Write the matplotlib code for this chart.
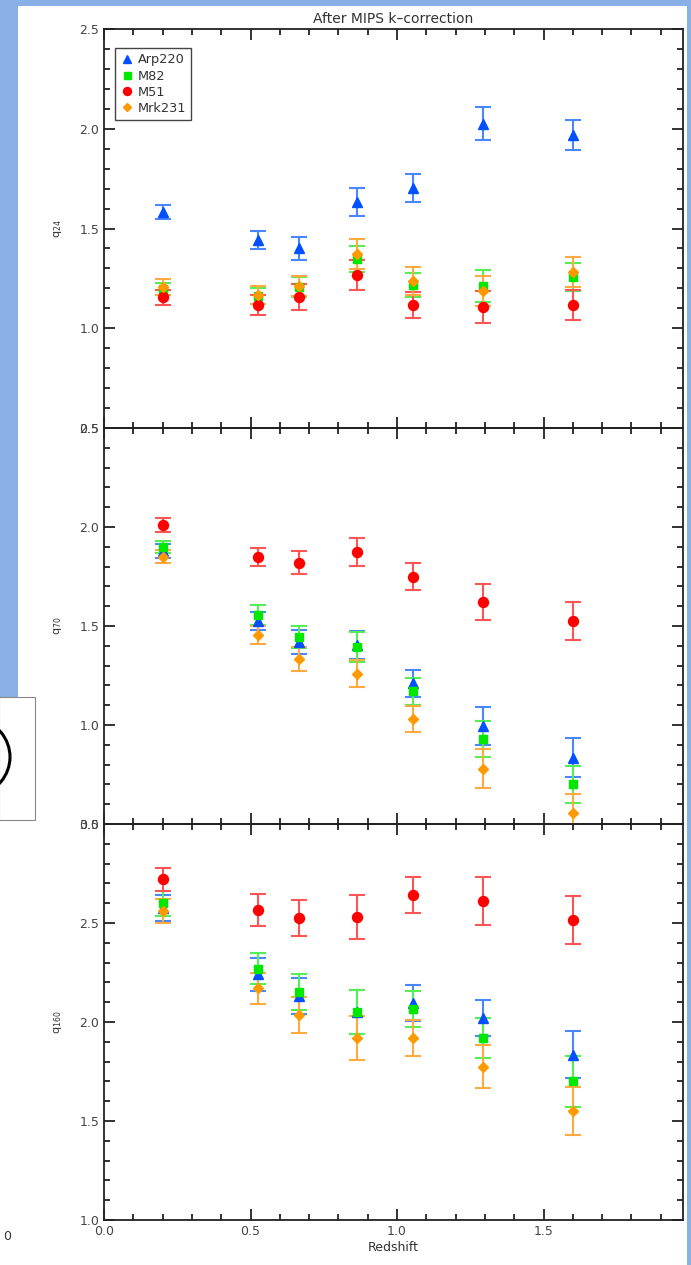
import matplotlib
matplotlib.use("Agg")
import matplotlib.pyplot as plt
from matplotlib.patches import Rectangle, Arc
from matplotlib.lines import Line2D
from matplotlib.ticker import MultipleLocator, FormatStrFormatter

# Redshift bins
redshift = [0.20, 0.525, 0.665, 0.865, 1.055, 1.295, 1.60]

# q24
q24_arp220 = [1.585, 1.44, 1.40, 1.635, 1.705, 2.025, 1.97]
q24_arp220_err = [0.035, 0.045, 0.058, 0.07, 0.07, 0.083, 0.075]
q24_m82 = [1.195, 1.16, 1.205, 1.345, 1.215, 1.21, 1.255]
q24_m82_err = [0.03, 0.04, 0.05, 0.065, 0.06, 0.08, 0.07]
q24_m51 = [1.155, 1.115, 1.155, 1.265, 1.115, 1.105, 1.115]
q24_m51_err = [0.037, 0.05, 0.065, 0.075, 0.065, 0.08, 0.075]
q24_mrk231 = [1.205, 1.165, 1.21, 1.37, 1.235, 1.185, 1.28]
q24_mrk231_err = [0.04, 0.045, 0.05, 0.075, 0.07, 0.075, 0.075]

# q70
q70_arp220 = [1.88, 1.525, 1.42, 1.405, 1.21, 0.995, 0.835]
q70_arp220_err = [0.035, 0.045, 0.06, 0.072, 0.07, 0.095, 0.097]
q70_m82 = [1.90, 1.555, 1.445, 1.395, 1.17, 0.93, 0.70]
q70_m82_err = [0.03, 0.05, 0.057, 0.075, 0.067, 0.09, 0.095]
q70_m51 = [2.01, 1.85, 1.82, 1.875, 1.75, 1.62, 1.525]
q70_m51_err = [0.037, 0.045, 0.058, 0.07, 0.067, 0.09, 0.095]
q70_mrk231 = [1.85, 1.455, 1.333, 1.26, 1.03, 0.78, 0.555]
q70_mrk231_err = [0.033, 0.045, 0.06, 0.07, 0.065, 0.098, 0.095]

# q160
q160_arp220 = [2.575, 2.24, 2.13, 2.05, 2.095, 2.02, 1.835]
q160_arp220_err = [0.065, 0.082, 0.09, 0.11, 0.09, 0.09, 0.12]
q160_m82 = [2.60, 2.27, 2.15, 2.05, 2.065, 1.92, 1.70]
q160_m82_err = [0.063, 0.078, 0.09, 0.11, 0.09, 0.10, 0.13]
q160_m51 = [2.72, 2.565, 2.525, 2.53, 2.64, 2.61, 2.515]
q160_m51_err = [0.06, 0.08, 0.09, 0.11, 0.09, 0.12, 0.12]
q160_mrk231 = [2.56, 2.17, 2.035, 1.92, 1.92, 1.775, 1.55]
q160_mrk231_err = [0.06, 0.078, 0.09, 0.11, 0.09, 0.11, 0.12]

templates = ["Arp220", "M82", "M51", "Mrk231"]
panel_labels = ["q$_{24}$", "q$_{70}$", "q$_{160}$"]

styles = {
    "Arp220": dict(marker="^", color="#0050ff", ecolor="#4a86ff", ms=7.0),
    "M82": dict(marker="s", color="#00e800", ecolor="#55ee55", ms=6.3),
    "M51": dict(marker="o", color="#ff0000", ecolor="#ff5555", ms=7.2),
    "Mrk231": dict(marker="D", color="#ff9900", ecolor="#ffaa40", ms=4.6),
}

panels = [
    ([q24_arp220, q24_m82, q24_m51, q24_mrk231],
     [q24_arp220_err, q24_m82_err, q24_m51_err, q24_mrk231_err], (0.5, 2.5)),
    ([q70_arp220, q70_m82, q70_m51, q70_mrk231],
     [q70_arp220_err, q70_m82_err, q70_m51_err, q70_mrk231_err], (0.5, 2.5)),
    ([q160_arp220, q160_m82, q160_m51, q160_mrk231],
     [q160_arp220_err, q160_m82_err, q160_m51_err, q160_mrk231_err], (1.0, 3.0)),
]

plt.rcParams["font.family"] = ["DejaVu Sans"]
W, H = 691, 1265
fig = plt.figure(figsize=(W / 100, H / 100), dpi=100)
fig.patch.set_facecolor("white")

# page background around the plot
blue = "#89b0e6"
fig.patches.append(Rectangle((0, 1 - 6 / H), 1, 6 / H, transform=fig.transFigure,
                             facecolor=blue, edgecolor="none", zorder=0))
fig.patches.append(Rectangle((0, 1 - 697 / H), 18 / W, 697 / H, transform=fig.transFigure,
                             facecolor=blue, edgecolor="none", zorder=0))
fig.patches.append(Rectangle((687 / W, 0), 4 / W, 1, transform=fig.transFigure,
                             facecolor=blue, edgecolor="none", zorder=0))
fig.patches.append(Rectangle((-1 / W, 1 - 820 / H), 36 / W, 123 / H, transform=fig.transFigure,
                             facecolor="none", edgecolor="#888888", lw=0.8, zorder=0))
fig.patches.append(Arc((-30 / W, 1 - 757 / H), 80 / W, 78 / H, theta1=-70, theta2=70,
                       transform=fig.transFigure, color="black", lw=2.2, zorder=1))
fig.text(3 / W, 1 - 1237 / H, "0", fontsize=9, color="#333333", va="center", ha="left")

left, right = 104 / W, 683 / W
bounds = [(29, 428), (428, 824), (824, 1220)]

axes = []
for i, ((vals, errs, ylim), (ytop, ybot)) in enumerate(zip(panels, bounds)):
    ax = fig.add_axes([left, 1 - ybot / H, right - left, (ybot - ytop) / H])
    axes.append(ax)
    for name, v, e in zip(templates, vals, errs):
        st = styles[name]
        ax.errorbar(redshift, v, yerr=e, fmt=st["marker"], color=st["color"],
                    ecolor=st["ecolor"], ms=st["ms"], mec=st["color"], elinewidth=1.5,
                    capsize=5.5, capthick=1.5, zorder=3)
    ax.set_xlim(0.0, 1.976)
    ax.set_ylim(*ylim)
    ax.xaxis.set_major_locator(MultipleLocator(0.5))
    ax.xaxis.set_minor_locator(MultipleLocator(0.1))
    ax.yaxis.set_major_locator(MultipleLocator(0.5))
    ax.yaxis.set_minor_locator(MultipleLocator(0.1))
    ax.tick_params(which="both", direction="in", top=True, right=True, color="#222222",
                   width=1.3, labelsize=9, labelcolor="#444444")
    ax.tick_params(which="major", length=8)
    ax.tick_params(which="minor", length=4.5)
    ax.yaxis.set_major_formatter(FormatStrFormatter("%.1f"))
    ax.xaxis.set_major_formatter(FormatStrFormatter("%.1f"))
    for sp in ax.spines.values():
        sp.set_color("#222222")
        sp.set_linewidth(1.3)
    ax.set_ylabel(panel_labels[i], fontsize=8, color="#333333", labelpad=11)
    if i < 2:
        ax.tick_params(labelbottom=False)
    ax.set_facecolor("none")

axes[0].set_title("After MIPS k\u2013correction", fontsize=10, color="#333333", pad=4)
axes[2].set_xlabel("Redshift", fontsize=9, color="#333333", labelpad=2)

handles = [Line2D([], [], linestyle="none", marker=styles[n]["marker"],
                  color=styles[n]["color"], ms=styles[n]["ms"] * 0.8) for n in templates]
leg = axes[0].legend(handles, templates, loc="upper left", bbox_to_anchor=(0.019, 0.952),
                     fontsize=9.3, frameon=True, fancybox=False, edgecolor="#444444",
                     framealpha=1, handletextpad=0.25, borderpad=0.4, labelspacing=0.25,
                     handlelength=1.1, borderaxespad=0)
leg.get_frame().set_linewidth(1.0)
for t in leg.get_texts():
    t.set_color("#333333")

fig.savefig("out.png", dpi=100)
